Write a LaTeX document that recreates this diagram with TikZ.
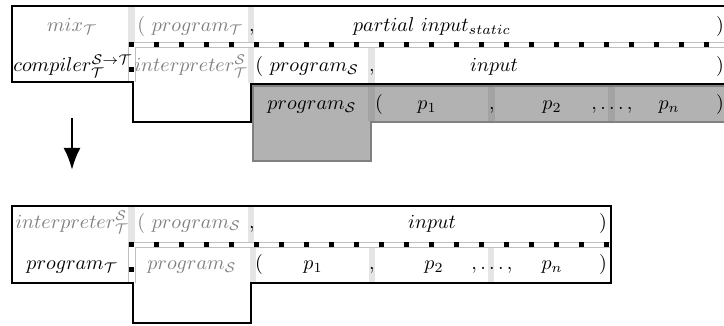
\documentclass[tikz,border=0pt]{standalone}
\usetikzlibrary{arrows.meta}
\begin{document}
\begin{tikzpicture}[x=0.5pt,y=-0.5pt,
  frame/.style={line width=1.45pt,line join=miter},
  bandline/.style={draw=black!25,line width=0.45pt},
  tape/.style={line width=2.5pt,dash pattern=on 2.5pt off 10pt},
  lstrip/.style={fill=black!10},
  dstrip/.style={fill=black!36},
  lbl/.style={inner sep=0pt,anchor=base},
  lblw/.style={inner sep=0pt,anchor=base west},
  gtxt/.style={text=black!50}]
\useasboundingbox (0,0) rectangle (724,326);
\clip (0,0) rectangle (724,326);

% ===== top figure =====
\fill[lstrip] (128,6) rectangle (135,42);
\fill[lstrip] (248,6) rectangle (254,42);
\fill[lstrip] (248,47) rectangle (254,83);
\fill[lstrip] (368,47) rectangle (375,83);
% gray box
\filldraw[fill=black!30,draw=black!50,line width=1.2pt]
  (253,86) -- (730,86) -- (730,122) -- (371,122) -- (371,161) -- (253,161) -- cycle;
\fill[dstrip] (368,87) rectangle (375,121);
\fill[dstrip] (488,87) rectangle (495,121);
\fill[dstrip] (608,87) rectangle (615,121);
% tape band
\draw[bandline] (128,42) -- (730,42);
\draw[bandline] (135,47) -- (730,47);
\draw[bandline] (128,42) -- (128,82);
\draw[bandline] (135,47) -- (135,82);
\draw[tape,dash phase=7.5pt] (131.5,82) -- (131.5,44.5) -- (730,44.5);
% frame
\draw[frame] (730,6) -- (12,6) -- (12,82) -- (133,82) -- (133,122) -- (251,122) -- (251,84) -- (730,84);

% texts row 1
\node[lbl,gtxt] (mix) at (72,32) {$mix_{\mathcal{T}}$};
\node[lblw,gtxt] (progT) at (137,32) {$(\ program_{\mathcal{T}}$};
\node[lbl] (c1) at (252,32) {$,$};
\node[lbl] (pis) at (432,32) {$partial\ input_{static}$};
\node[lbl] (r1) at (720,32) {$)$};
% row 2
\node[lblw] (comp) at (13,71.5) {$compiler^{\mathcal{S}\rightarrow\mathcal{T}}_{\mathcal{T}}$};
\node[lbl,gtxt] (interp) at (191,71.5) {$interpreter^{\mathcal{S}}_{\mathcal{T}}$};
\node[lblw] (progS) at (255,71.5) {$(\ program_{\mathcal{S}}$};
\node[lbl] (c2) at (372,71.5) {$,$};
\node[lbl] (inp) at (494,71.5) {$input$};
\node[lbl] (r2) at (720,71.5) {$)$};
% gray row
\node[lbl] (gprog) at (312,110) {$program_{\mathcal{S}}$};
\node[lbl] (gl) at (379,110) {$($};
\node[lbl] (gp1) at (427,110) {$p_1$};
\node[lbl] (gc) at (492,110) {$,$};
\node[lbl] (gp2) at (552,110) {$p_2$};
\node[lbl] (gdots) at (612,110) {$,\ldots,$};
\node[lbl] (gpn) at (669,110) {$p_n$};
\node[lbl] (gr) at (720,110) {$)$};

% ===== arrow =====
\coordinate (arrS) at (72,118);
\coordinate (arrE) at (72,170);
\draw[-{Latex[length=11pt,width=8.5pt]},line width=1.35pt] (arrS) -- (arrE);

% ===== bottom figure =====
\fill[lstrip] (128,206) rectangle (135,242);
\fill[lstrip] (248,206) rectangle (254,242);
\fill[lstrip] (250,247) rectangle (256,283);
\fill[lstrip] (369,247) rectangle (375,283);
\fill[lstrip] (488,247) rectangle (494,283);
\draw[bandline] (128,242) -- (611,242);
\draw[bandline] (135,247) -- (611,247);
\draw[bandline] (128,242) -- (128,283);
\draw[bandline] (135,247) -- (135,283);
\draw[tape,dash phase=7pt] (131.5,283) -- (131.5,244.5) -- (611,244.5);
\draw[frame] (12,206) -- (611,206) -- (611,283) -- (251,283) -- (251,323) -- (133,323) -- (133,283) -- (12,283) -- cycle;

% row 1
\node[lbl,gtxt] (binterp) at (72,228) {$interpreter^{\mathcal{S}}_{\mathcal{T}}$};
\node[lblw,gtxt] (bprogS) at (137,228) {$(\ program_{\mathcal{S}}$};
\node[lbl] (bc1) at (252,228) {$,$};
\node[lbl] (binp) at (432,228) {$input$};
\node[lbl] (br1) at (603,228) {$)$};
% row 2
\node[lbl] (bprogT) at (72,270) {$program_{\mathcal{T}}$};
\node[lbl,gtxt] (bprogS2) at (192,270) {$program_{\mathcal{S}}$};
\node[lbl] (bl) at (259,270) {$($};
\node[lbl] (bp1) at (313,270) {$p_1$};
\node[lbl] (bc2) at (372,270) {$,$};
\node[lbl] (bp2) at (434,270) {$p_2$};
\node[lbl] (bdots) at (492,270) {$,\ldots,$};
\node[lbl] (bpn) at (552,270) {$p_n$};
\node[lbl] (br2) at (603,270) {$)$};
\end{tikzpicture}
\end{document}
